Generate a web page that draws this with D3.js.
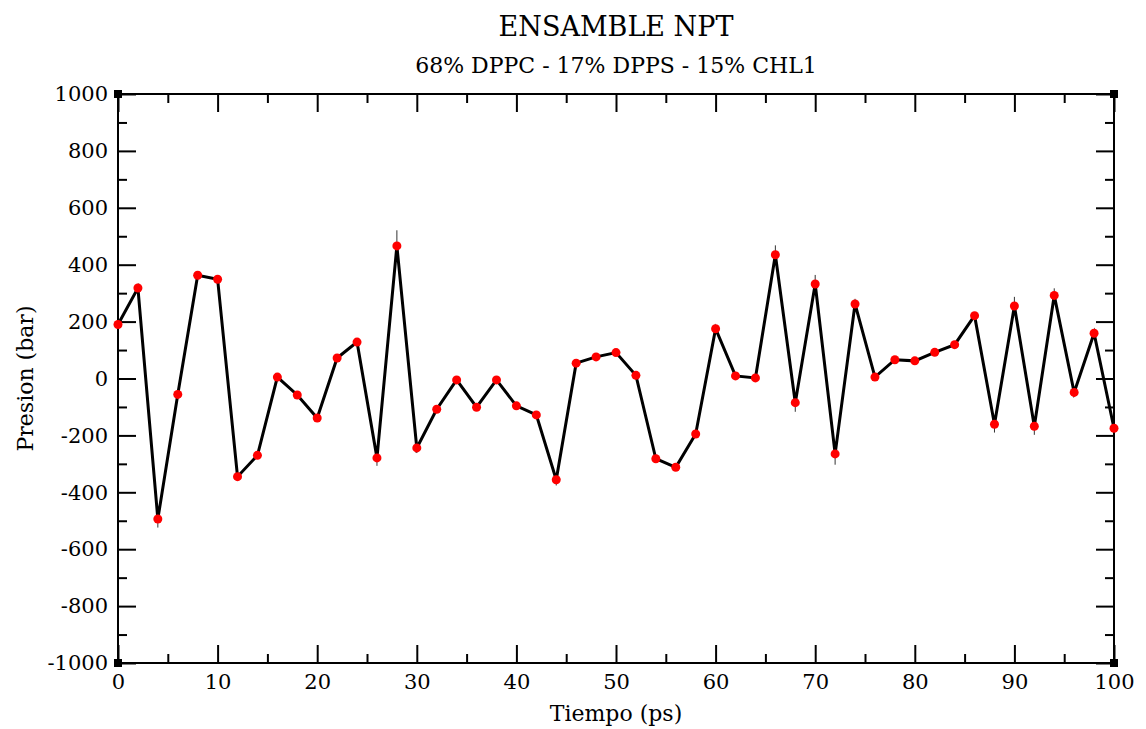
<!DOCTYPE html>
<html>
<head>
<meta charset="utf-8">
<script src="https://cdn.jsdelivr.net/npm/d3@7"></script>
<style>
  body { margin: 0; background: #fff; }
</style>
</head>
<body>
<svg id="chart"></svg>
<script>
// datos
const tiempo = d3.range(0, 101, 2);
const presion = [190, 318, -494, -56, 363, 349, -345, -270, 5, -58,
  -139, 72, 128, -279, 466, -244, -108, -5, -101, -5,
  -96, -128, -356, 54, 76, 91, 11, -282, -312, -195,
  175, 9, 2, 435, -85, 332, -265, 262, 5, 66,
  62, 92, 119, 221, -161, 255, -168, 292, -49, 159,
  -175];
const error = [10, 15, 30, 10, 10, 10, 10, 10, 10, 10,
  10, 10, 10, 28, 55, 18, 10, 10, 10, 10,
  10, 10, 20, 10, 10, 10, 10, 12, 10, 10,
  12, 10, 10, 33, 32, 32, 38, 18, 10, 10,
  10, 10, 10, 10, 29, 32, 30, 25, 13, 10,
  10];
const xTicks = [0, 10, 20, 30, 40, 50, 60, 70, 80, 90, 100];
const yTicks = [-1000, -800, -600, -400, -200, 0, 200, 400, 600, 800, 1000];

const W = 1146, H = 729;
const mLeft = 118, mRight = 1114, mTop = 94, mBottom = 663;
const serif = 'DejaVu Serif';

const svg = d3.select('#chart').attr('width', W).attr('height', H);

const x = d3.scaleLinear().domain([0, 100]).range([mLeft, mRight]);
const y = d3.scaleLinear().domain([-1000, 1000]).range([mBottom, mTop]);

const data = tiempo.map((t, i) => ({ t: t, p: presion[i], e: error[i] }));

// titulos
svg.append('text')
  .attr('x', (mLeft + mRight) / 2).attr('y', 36)
  .attr('text-anchor', 'middle')
  .attr('font-family', serif)
  .attr('font-size', 27)
  .text('ENSAMBLE NPT');

svg.append('text')
  .attr('x', (mLeft + mRight) / 2).attr('y', 73)
  .attr('text-anchor', 'middle')
  .attr('font-family', serif)
  .attr('font-size', 22)
  .text('68% DPPC - 17% DPPS - 15% CHL1');

// ejes: ticks hacia adentro en los cuatro lados
function styleAxis(g) {
  g.attr('font-family', serif).attr('font-size', 21);
  g.select('.domain').remove();
  g.selectAll('line').attr('stroke', '#000').attr('stroke-width', 2);
  g.selectAll('text').attr('fill', '#000');
}

const fmt = (d) => String(d);
const minorX = d3.range(5, 100, 10);
const minorY = d3.range(-900, 1000, 200);

svg.append('g').attr('transform', `translate(0,${mBottom})`)
  .call(d3.axisBottom(x).tickValues(xTicks).tickSize(-18).tickPadding(11).tickFormat(fmt))
  .call(styleAxis);
svg.append('g').attr('transform', `translate(0,${mBottom})`)
  .call(d3.axisBottom(x).tickValues(minorX).tickSize(-9).tickFormat(''))
  .call(styleAxis);
svg.append('g').attr('transform', `translate(0,${mTop})`)
  .call(d3.axisTop(x).tickValues(xTicks).tickSize(-18).tickFormat(''))
  .call(styleAxis);
svg.append('g').attr('transform', `translate(0,${mTop})`)
  .call(d3.axisTop(x).tickValues(minorX).tickSize(-9).tickFormat(''))
  .call(styleAxis);

svg.append('g').attr('transform', `translate(${mLeft},0)`)
  .call(d3.axisLeft(y).tickValues(yTicks).tickSize(-18).tickPadding(10).tickFormat(fmt))
  .call(styleAxis);
svg.append('g').attr('transform', `translate(${mLeft},0)`)
  .call(d3.axisLeft(y).tickValues(minorY).tickSize(-9).tickFormat(''))
  .call(styleAxis);
svg.append('g').attr('transform', `translate(${mRight},0)`)
  .call(d3.axisRight(y).tickValues(yTicks).tickSize(-18).tickFormat(''))
  .call(styleAxis);
svg.append('g').attr('transform', `translate(${mRight},0)`)
  .call(d3.axisRight(y).tickValues(minorY).tickSize(-9).tickFormat(''))
  .call(styleAxis);

// marco
svg.append('rect')
  .attr('x', mLeft).attr('y', mTop)
  .attr('width', mRight - mLeft).attr('height', mBottom - mTop)
  .attr('fill', 'none').attr('stroke', '#000').attr('stroke-width', 2);

// cuadritos en las esquinas
[[mLeft, mTop], [mRight, mTop], [mLeft, mBottom], [mRight, mBottom]].forEach((c) => {
  svg.append('rect')
    .attr('x', c[0] - 4).attr('y', c[1] - 4)
    .attr('width', 8).attr('height', 8)
    .attr('fill', '#000');
});

// barras de error
svg.append('g').selectAll('line')
  .data(data)
  .enter()
  .append('line')
  .attr('x1', (d) => x(d.t)).attr('x2', (d) => x(d.t))
  .attr('y1', (d) => y(d.p - d.e)).attr('y2', (d) => y(d.p + d.e))
  .attr('stroke', '#333').attr('stroke-width', 1);

// linea
const line = d3.line().x((d) => x(d.t)).y((d) => y(d.p));
svg.append('path')
  .datum(data)
  .attr('d', line)
  .attr('fill', 'none')
  .attr('stroke', '#000')
  .attr('stroke-width', 3)
  .attr('stroke-linejoin', 'miter');

// puntos
svg.append('g').selectAll('circle')
  .data(data)
  .enter()
  .append('circle')
  .attr('cx', (d) => x(d.t)).attr('cy', (d) => y(d.p))
  .attr('r', 4.5)
  .attr('fill', '#ff0000');

// etiquetas de los ejes
svg.append('text')
  .attr('x', (mLeft + mRight) / 2).attr('y', 721)
  .attr('text-anchor', 'middle')
  .attr('font-family', serif)
  .attr('font-size', 22)
  .text('Tiempo (ps)');

svg.append('text')
  .attr('transform', `translate(33,${(mTop + mBottom) / 2}) rotate(-90)`)
  .attr('text-anchor', 'middle')
  .attr('font-family', serif)
  .attr('font-size', 22)
  .text('Presion (bar)');
</script>
</body>
</html>
